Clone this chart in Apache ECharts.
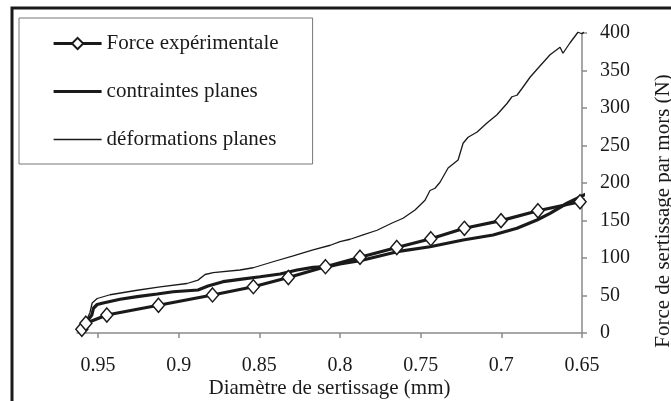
<!DOCTYPE html>
<html>
<head>
<meta charset="utf-8">
<script src="https://cdn.jsdelivr.net/npm/echarts@6/dist/echarts.min.js"></script>
<style>
html,body{margin:0;padding:0;background:#fff;}
#c{width:671px;height:401px;}
</style>
</head>
<body>
<div id="c"></div>
<script>
// ---- data (diameter in mm, force in N) ----
var seriesNames = ['Force expérimentale', 'contraintes planes', 'déformations planes'];
var xTickValues = [0.65, 0.7, 0.75, 0.8, 0.85, 0.9, 0.95];

var experimental = [
  [0.960, 5], [0.9575, 13], [0.9445, 24], [0.9125, 37], [0.879, 50.7],
  [0.8537, 61.7], [0.832, 74], [0.809, 88.4], [0.7876, 101], [0.7648, 114],
  [0.7437, 125.7], [0.7229, 139.6], [0.7002, 149.8], [0.6773, 163], [0.6512, 175]
];
var experimentalEnd = [0.645, 179];

var contraintes = [
  [0.960, 2], [0.957, 15], [0.9538, 24], [0.9528, 33], [0.9505, 38],
  [0.9468, 40], [0.9363, 45], [0.9257, 48.4], [0.9133, 52], [0.9034, 55],
  [0.888, 57.3], [0.8818, 62.7], [0.8725, 68.4], [0.862, 71.6], [0.8495, 75],
  [0.8371, 78.7], [0.8266, 84], [0.8167, 87.6], [0.8061, 89], [0.80, 92],
  [0.7876, 96.4], [0.7646, 108.4], [0.7442, 115], [0.7237, 124], [0.7051, 130.7],
  [0.6903, 139.6], [0.6779, 150.7], [0.6698, 159.6], [0.6593, 173], [0.645, 188]
];

var deformations = [
  [0.960, 2], [0.958, 13], [0.955, 27], [0.9536, 40], [0.9505, 46],
  [0.9425, 51], [0.9257, 57], [0.9115, 61.5], [0.8948, 66], [0.888, 70.5],
  [0.8836, 78], [0.8786, 80.5], [0.862, 84], [0.8538, 87], [0.8415, 95],
  [0.829, 102.7], [0.8167, 110.7], [0.806, 117], [0.80, 121.7], [0.7937, 125],
  [0.7857, 130.7], [0.777, 137], [0.7677, 146.7], [0.7609, 153], [0.7535, 164],
  [0.7473, 177], [0.7442, 190], [0.7411, 193], [0.738, 201], [0.733, 220],
  [0.7268, 230.7], [0.7237, 253], [0.7206, 261], [0.715, 268], [0.7089, 280],
  [0.7027, 291], [0.6965, 306], [0.6934, 315], [0.6903, 317], [0.6872, 326],
  [0.6822, 341], [0.6773, 353], [0.6698, 371], [0.6636, 381], [0.6618, 373],
  [0.6574, 387], [0.6525, 401], [0.65, 399], [0.6469, 404], [0.645, 411]
];

// ---- chart ----
var FONT = '"Liberation Serif", "Times New Roman", serif';
var INK = '#1a1a1a';
var AXIS = '#8a8a8a';

var expData = experimental.map(function (p) { return p; });
expData.push({ value: experimentalEnd, symbol: 'none' });

var chart = echarts.init(document.getElementById('c'), null, { renderer: 'canvas' });
chart.setOption({
  animation: false,
  backgroundColor: '#fff',
  grid: { left: 77, right: 89, top: 33, bottom: 68, containLabel: false, outerBoundsMode: 'none' },
  legend: {
    orient: 'vertical',
    left: 19, top: 18,
    padding: [15, 34, 14, 33],
    itemGap: 27,
    itemWidth: 48, itemHeight: 14,
    borderColor: '#777', borderWidth: 1,
    backgroundColor: '#fff',
    selectedMode: false,
    textStyle: { fontFamily: FONT, fontSize: 21, color: INK },
    data: [
      { name: seriesNames[0], lineStyle: { width: 3.2, color: INK } },
      { name: seriesNames[1], lineStyle: { width: 3.2, color: INK }, itemStyle: { opacity: 0 } },
      { name: seriesNames[2], lineStyle: { width: 1.3, color: INK }, itemStyle: { opacity: 0 } }
    ]
  },
  xAxis: {
    type: 'value',
    inverse: true,
    min: 0.65, max: 0.963,
    name: 'Diamètre de sertissage (mm)',
    nameLocation: 'middle',
    nameGap: 45,
    nameMoveOverlap: false,
    nameTextStyle: { fontFamily: FONT, fontSize: 21, color: INK },
    axisLine: { show: true, lineStyle: { color: AXIS, width: 1.5 } },
    axisTick: { show: true, length: 5, lineStyle: { color: AXIS, width: 1.5 }, customValues: xTickValues },
    axisLabel: { fontFamily: FONT, fontSize: 20, color: INK, margin: 23, customValues: xTickValues },
    splitLine: { show: false }
  },
  yAxis: {
    type: 'value',
    position: 'right',
    min: 0, max: 400, interval: 50,
    name: 'Force de sertissage par mors (N)',
    nameLocation: 'middle',
    nameRotate: 90,
    nameGap: 71,
    nameMoveOverlap: false,
    nameTextStyle: { fontFamily: FONT, fontSize: 21, color: INK, padding: [0, 56, 0, 0] },
    axisLine: { show: true, lineStyle: { color: AXIS, width: 1.5 } },
    axisTick: { show: true, length: 5, lineStyle: { color: AXIS, width: 1.5 } },
    axisLabel: { fontFamily: FONT, fontSize: 20, color: INK, margin: 18, align: 'left' },
    splitLine: { show: false }
  },
  graphic: [
    {
      type: 'polyline',
      shape: { points: [[12, 401], [12, 8], [671, 8]] },
      style: { stroke: INK, lineWidth: 3, fill: null },
      silent: true
    }
  ],
  series: [
    {
      name: seriesNames[2],
      type: 'line',
      data: deformations,
      symbol: 'none',
      clip: false,
      z: 2,
      lineStyle: { color: INK, width: 1.3 },
      itemStyle: { color: INK }
    },
    {
      name: seriesNames[1],
      type: 'line',
      data: contraintes,
      symbol: 'none',
      clip: false,
      z: 3,
      lineStyle: { color: INK, width: 3.2 },
      itemStyle: { color: INK }
    },
    {
      name: seriesNames[0],
      type: 'line',
      data: expData,
      symbol: 'diamond',
      symbolSize: [12, 14],
      clip: false,
      z: 4,
      lineStyle: { color: INK, width: 3.2 },
      itemStyle: { color: '#fff', borderColor: INK, borderWidth: 1.5 }
    }
  ]
});
</script>
</body>
</html>
